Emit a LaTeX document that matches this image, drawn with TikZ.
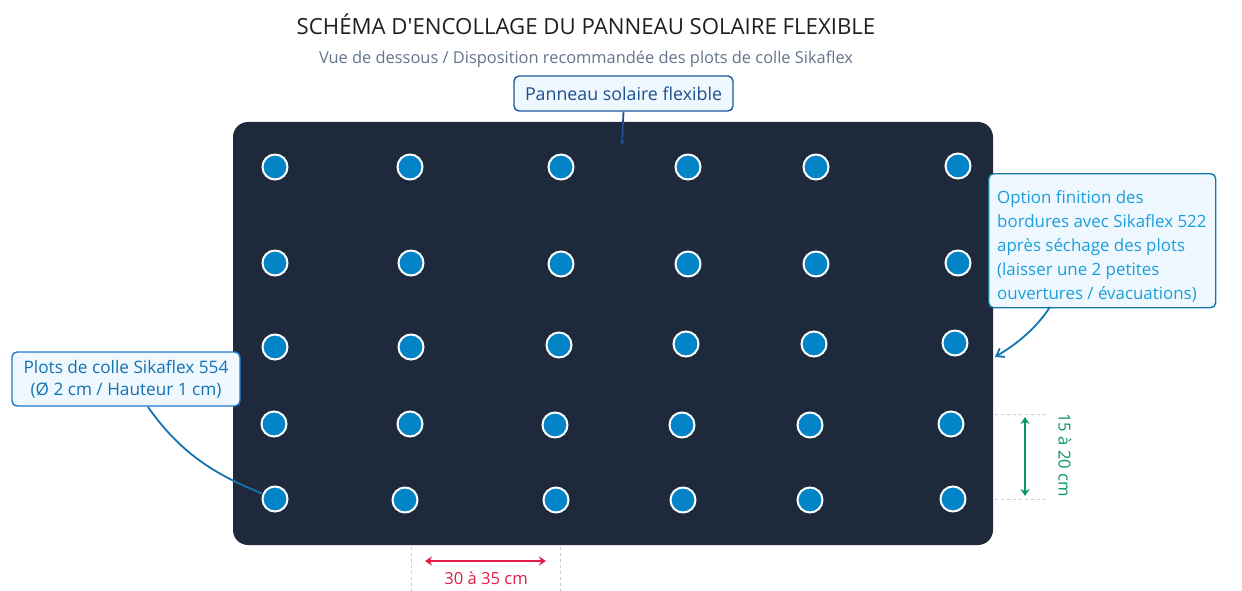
\documentclass[tikz,border=0pt]{standalone}
\usepackage{fontspec}
\setmainfont{Open Sans}[Ligatures=TeXOff]
\usetikzlibrary{arrows.meta}
\definecolor{panel}{HTML}{1E293B}
\definecolor{dot}{HTML}{0284C7}
\definecolor{lblfill}{HTML}{EFF8FF}
\definecolor{lbldraw}{HTML}{1E78C8}
\definecolor{darkblue}{HTML}{1D4F91}
\definecolor{skyblue}{HTML}{1A9FDC}
\definecolor{midblue}{HTML}{1372B0}
\definecolor{greenc}{HTML}{059669}
\definecolor{redc}{HTML}{E11D48}
\definecolor{graytxt}{HTML}{64748B}
\definecolor{dashgray}{HTML}{C8CDD4}
\tikzset{
  plot/.style={circle, fill=dot, draw=white, line width=2pt, minimum size=25pt, inner sep=0pt},
  lbl/.style={draw=lbldraw, fill=lblfill, rounded corners=5pt, line width=1.4pt},
  leader/.style={draw=midblue, line width=1.8pt},
  dimline/.style={draw=dashgray, dashed, line width=0.9pt},
}
\begin{document}
\begin{tikzpicture}[x=1pt,y=-1pt]
\useasboundingbox (0,0) rectangle (1242,591);
\node[font=\fontsize{22.2}{26}\selectfont, text=black!88] (title) at (586,24) {SCHÉMA D'ENCOLLAGE DU PANNEAU SOLAIRE FLEXIBLE};
\node[font=\fontsize{16.4}{19}\selectfont, text=graytxt] (sub) at (586,59) {Vue de dessous / Disposition recommandée des plots de colle Sikaflex};
% panel
\path[fill=panel, rounded corners=15pt] (233,122) rectangle (993,545);
\coordinate (paneltop) at (622,145);
% dots
\foreach \i/\x/\y in {11/275/167,12/410/167,13/561/167,14/688/167,15/816/167,16/958/166,
  21/275/263,22/411/263,23/561/264,24/688/264,25/816/264,26/958/263,
  31/275/347,32/411/347,33/559/345,34/686/344,35/814/344,36/955/343,
  41/274/424,42/410/424,43/555/425,44/682/425,45/810/425,46/951/424,
  51/275/499,52/405/500,53/556/500,54/683/500,55/810/500,56/953/499}
  \node[plot] (d\i) at (\x,\y) {};
% top label
\node[lbl, text=darkblue, draw=darkblue!80!lbldraw, minimum width=219pt, minimum height=35pt, inner sep=3pt, font=\fontsize{17.8}{21}\selectfont] (ptop) at (623.5,93.5) {Panneau solaire flexible};
\draw[leader, draw=darkblue, -{Stealth[length=5pt,width=5pt]}] (ptop.south) -- (paneltop);
% right label
\node[lbl, draw=skyblue!75!black, minimum width=227pt, minimum height=134pt, inner sep=0pt, anchor=north west] (pright) at (988,173) {};
\node[text=skyblue, inner sep=0pt, align=left, font=\fontsize{16.9}{24}\selectfont, anchor=west] (prtext) at (997,246) {Option finition des\\bordures avec Sikaflex 522\\après séchage des plots\\(laisser une 2 petites\\ouvertures / évacuations)};
\coordinate (edge) at (995,357);
\draw[leader, draw=midblue, -{Straight Barb[length=7pt,width=10pt]}] (1050,307) .. controls (1035,330) and (1015,345) .. (edge);
% left label
\node[lbl, text=midblue, minimum width=228pt, minimum height=54pt, inner sep=3pt, align=center, font=\fontsize{17.2}{22}\selectfont] (pleft) at (126,379) {Plots de colle Sikaflex 554\\(Ø 2 cm / Hauteur 1 cm)};
\draw[leader] (148,407) .. controls (185,460) and (225,478) .. (d51);
% vertical dimension
\coordinate (v1a) at (995,414); \coordinate (v1b) at (1047,414);
\coordinate (v2a) at (995,499); \coordinate (v2b) at (1047,499);
\draw[dimline] (v1a) -- (v1b);
\draw[dimline] (v2a) -- (v2b);
\coordinate (va) at (1025,417); \coordinate (vb) at (1025,496);
\draw[greenc, line width=2.2pt, {Stealth[length=7pt,width=9pt]}-{Stealth[length=7pt,width=9pt]}] (va) -- (vb);
\node[text=greenc, rotate=-90, font=\fontsize{16.6}{19}\selectfont] (vlabel) at (1065,455) {15 à 20 cm};
% horizontal dimension
\coordinate (h1a) at (411,547); \coordinate (h1b) at (411,591);
\coordinate (h2a) at (560,547); \coordinate (h2b) at (560,591);
\draw[dimline] (h1a) -- (h1b);
\draw[dimline] (h2a) -- (h2b);
\coordinate (ha) at (425,561); \coordinate (hb) at (546,561);
\draw[redc, line width=2.2pt, {Stealth[length=7pt,width=9pt]}-{Stealth[length=7pt,width=9pt]}] (ha) -- (hb);
\node[text=redc, font=\fontsize{16.6}{19}\selectfont] (hlabel) at (486,578) {30 à 35 cm};
\end{tikzpicture}
\end{document}
